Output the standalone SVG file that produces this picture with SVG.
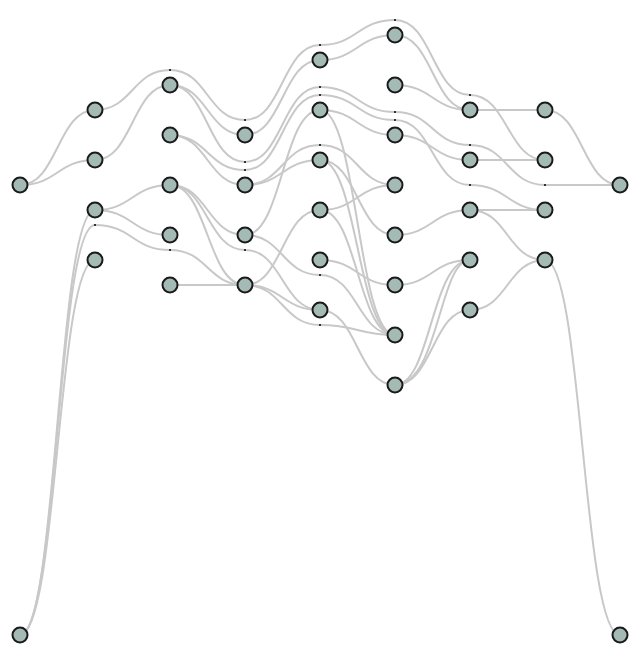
<svg xmlns="http://www.w3.org/2000/svg" width="640" height="655" viewBox="0 0 640 655">
<style>
.e{fill:none;stroke:#c8c8c8;stroke-width:2}
.n{fill:#a4bab4;stroke:#1a1a1a;stroke-width:2}
.d{fill:#333}
</style>
<rect width="640" height="655" fill="#fff"/>
<g id="connectors">
<path class="e" d="M20,185C57.5,185 57.5,110 95,110"/>
<path class="e" d="M20,185C57.5,185 57.5,160 95,160"/>
<path class="e" d="M20,635C57.5,635 57.5,210 95,210"/>
<path class="e" d="M20,635C57.5,635 57.5,225 95,225C132.5,225 132.5,250 170,250C207.5,250 207.5,285 245,285"/>
<path class="e" d="M20,635C57.5,635 57.5,260 95,260"/>
<path class="e" d="M95,110C132.5,110 132.5,70 170,70C207.5,70 207.5,120 245,120C282.5,120 282.5,45 320,45C357.5,45 357.5,20 395,20C432.5,20 432.5,95 470,95C507.5,95 507.5,160 545,160"/>
<path class="e" d="M95,160C132.5,160 132.5,85 170,85"/>
<path class="e" d="M95,210C132.5,210 132.5,185 170,185"/>
<path class="e" d="M95,210C132.5,210 132.5,235 170,235"/>
<path class="e" d="M170,85C207.5,85 207.5,135 245,135"/>
<path class="e" d="M170,85C207.5,85 207.5,162 245,162C282.5,162 282.5,87 320,87C357.5,87 357.5,112 395,112C432.5,112 432.5,145 470,145C507.5,145 507.5,185 545,185C582.5,185 582.5,185 620,185"/>
<path class="e" d="M170,135C207.5,135 207.5,170 245,170C282.5,170 282.5,95 320,95C357.5,95 357.5,120 395,120C432.5,120 432.5,185 470,185C507.5,185 507.5,210 545,210"/>
<path class="e" d="M170,135C207.5,135 207.5,185 245,185"/>
<path class="e" d="M170,185C207.5,185 207.5,235 245,235"/>
<path class="e" d="M170,185C207.5,185 207.5,250 245,250C282.5,250 282.5,310 320,310"/>
<path class="e" d="M170,185C207.5,185 207.5,285 245,285"/>
<path class="e" d="M170,285L245,285"/>
<path class="e" d="M245,135C282.5,135 282.5,60 320,60"/>
<path class="e" d="M245,185C282.5,185 282.5,145 320,145C357.5,145 357.5,185 395,185"/>
<path class="e" d="M245,185C282.5,185 282.5,160 320,160"/>
<path class="e" d="M245,235C282.5,235 282.5,110 320,110"/>
<path class="e" d="M245,235C282.5,235 282.5,275 320,275C357.5,275 357.5,335 395,335"/>
<path class="e" d="M245,285C282.5,285 282.5,210 320,210"/>
<path class="e" d="M245,285C282.5,285 282.5,310 320,310"/>
<path class="e" d="M245,285C282.5,285 282.5,325 320,325C357.5,325 357.5,335 395,335"/>
<path class="e" d="M320,60C357.5,60 357.5,35 395,35"/>
<path class="e" d="M320,110C357.5,110 357.5,135 395,135"/>
<path class="e" d="M320,110C357.5,110 357.5,335 395,335"/>
<path class="e" d="M320,160C357.5,160 357.5,335 395,335"/>
<path class="e" d="M320,160C357.5,160 357.5,235 395,235"/>
<path class="e" d="M320,210C357.5,210 357.5,185 395,185"/>
<path class="e" d="M320,210C357.5,210 357.5,335 395,335"/>
<path class="e" d="M320,260C357.5,260 357.5,285 395,285"/>
<path class="e" d="M320,310C357.5,310 357.5,385 395,385"/>
<path class="e" d="M395,35C432.5,35 432.5,110 470,110"/>
<path class="e" d="M395,85C432.5,85 432.5,110 470,110"/>
<path class="e" d="M395,135C432.5,135 432.5,160 470,160"/>
<path class="e" d="M395,235C432.5,235 432.5,210 470,210"/>
<path class="e" d="M395,285C432.5,285 432.5,260 470,260"/>
<path class="e" d="M395,385C431,385 431,260 470,260"/>
<path class="e" d="M395,385C439,385 439,260 470,260"/>
<path class="e" d="M395,385C432.5,385 432.5,310 470,310"/>
<path class="e" d="M470,110L545,110"/>
<path class="e" d="M470,160L545,160"/>
<path class="e" d="M470,210L545,210"/>
<path class="e" d="M470,210C507.5,210 507.5,260 545,260"/>
<path class="e" d="M470,310C507.5,310 507.5,260 545,260"/>
<path class="e" d="M545,110C582.5,110 582.5,185 620,185"/>
<path class="e" d="M545,260C582.5,260 582.5,635 620,635"/>
</g>
<g id="dummies">
<rect class="d" x="94" y="224" width="2" height="2"/>
<rect class="d" x="169" y="69" width="2" height="2"/>
<rect class="d" x="169" y="249" width="2" height="2"/>
<rect class="d" x="244" y="119" width="2" height="2"/>
<rect class="d" x="244" y="161" width="2" height="2"/>
<rect class="d" x="244" y="169" width="2" height="2"/>
<rect class="d" x="244" y="249" width="2" height="2"/>
<rect class="d" x="319" y="44" width="2" height="2"/>
<rect class="d" x="319" y="86" width="2" height="2"/>
<rect class="d" x="319" y="94" width="2" height="2"/>
<rect class="d" x="319" y="144" width="2" height="2"/>
<rect class="d" x="319" y="274" width="2" height="2"/>
<rect class="d" x="319" y="324" width="2" height="2"/>
<rect class="d" x="394" y="19" width="2" height="2"/>
<rect class="d" x="394" y="111" width="2" height="2"/>
<rect class="d" x="394" y="119" width="2" height="2"/>
<rect class="d" x="469" y="94" width="2" height="2"/>
<rect class="d" x="469" y="144" width="2" height="2"/>
<rect class="d" x="469" y="184" width="2" height="2"/>
<rect class="d" x="544" y="184" width="2" height="2"/>
</g>
<g id="A0"><circle class="n" cx="20" cy="185" r="7.5"/></g>
<g id="A1"><circle class="n" cx="20" cy="635" r="7.5"/></g>
<g id="B0"><circle class="n" cx="95" cy="110" r="7.5"/></g>
<g id="B1"><circle class="n" cx="95" cy="160" r="7.5"/></g>
<g id="B2"><circle class="n" cx="95" cy="210" r="7.5"/></g>
<g id="B3"><circle class="n" cx="95" cy="260" r="7.5"/></g>
<g id="C0"><circle class="n" cx="170" cy="85" r="7.5"/></g>
<g id="C1"><circle class="n" cx="170" cy="135" r="7.5"/></g>
<g id="C2"><circle class="n" cx="170" cy="185" r="7.5"/></g>
<g id="C3"><circle class="n" cx="170" cy="235" r="7.5"/></g>
<g id="C4"><circle class="n" cx="170" cy="285" r="7.5"/></g>
<g id="D0"><circle class="n" cx="245" cy="135" r="7.5"/></g>
<g id="D1"><circle class="n" cx="245" cy="185" r="7.5"/></g>
<g id="D2"><circle class="n" cx="245" cy="235" r="7.5"/></g>
<g id="D3"><circle class="n" cx="245" cy="285" r="7.5"/></g>
<g id="E0"><circle class="n" cx="320" cy="60" r="7.5"/></g>
<g id="E1"><circle class="n" cx="320" cy="110" r="7.5"/></g>
<g id="E2"><circle class="n" cx="320" cy="160" r="7.5"/></g>
<g id="E3"><circle class="n" cx="320" cy="210" r="7.5"/></g>
<g id="E4"><circle class="n" cx="320" cy="260" r="7.5"/></g>
<g id="E5"><circle class="n" cx="320" cy="310" r="7.5"/></g>
<g id="F0"><circle class="n" cx="395" cy="35" r="7.5"/></g>
<g id="F1"><circle class="n" cx="395" cy="85" r="7.5"/></g>
<g id="F2"><circle class="n" cx="395" cy="135" r="7.5"/></g>
<g id="F3"><circle class="n" cx="395" cy="185" r="7.5"/></g>
<g id="F4"><circle class="n" cx="395" cy="235" r="7.5"/></g>
<g id="F5"><circle class="n" cx="395" cy="285" r="7.5"/></g>
<g id="F6"><circle class="n" cx="395" cy="335" r="7.5"/></g>
<g id="F7"><circle class="n" cx="395" cy="385" r="7.5"/></g>
<g id="G0"><circle class="n" cx="470" cy="110" r="7.5"/></g>
<g id="G1"><circle class="n" cx="470" cy="160" r="7.5"/></g>
<g id="G2"><circle class="n" cx="470" cy="210" r="7.5"/></g>
<g id="G3"><circle class="n" cx="470" cy="260" r="7.5"/></g>
<g id="G4"><circle class="n" cx="470" cy="310" r="7.5"/></g>
<g id="H0"><circle class="n" cx="545" cy="110" r="7.5"/></g>
<g id="H1"><circle class="n" cx="545" cy="160" r="7.5"/></g>
<g id="H2"><circle class="n" cx="545" cy="210" r="7.5"/></g>
<g id="H3"><circle class="n" cx="545" cy="260" r="7.5"/></g>
<g id="I0"><circle class="n" cx="620" cy="185" r="7.5"/></g>
<g id="I1"><circle class="n" cx="620" cy="635" r="7.5"/></g>
</svg>
